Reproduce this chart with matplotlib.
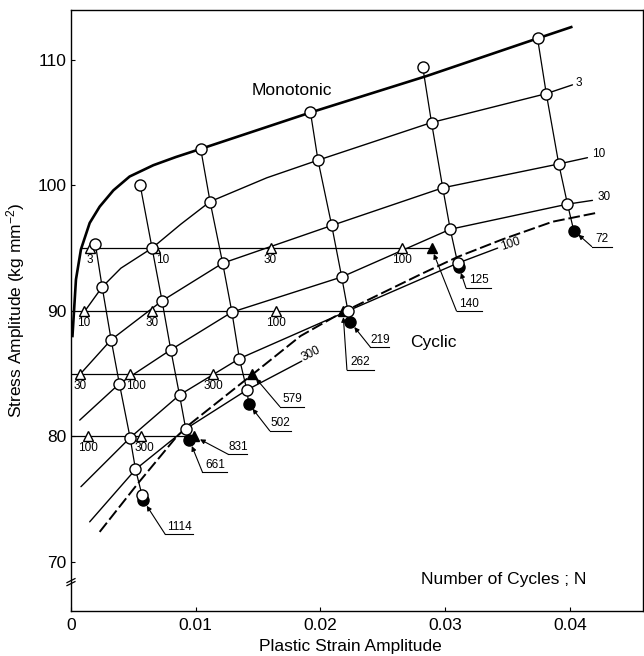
import matplotlib
matplotlib.use("Agg")
import matplotlib.pyplot as plt
from matplotlib.lines import Line2D
from matplotlib.patches import FancyArrowPatch
from matplotlib.transforms import Affine2D, ScaledTranslation

plt.rcParams['font.family'] = ['Liberation Sans', 'DejaVu Sans']
plt.rcParams['mathtext.default'] = 'regular'

# ---------------- data ----------------
x_ticks = [0, 0.01, 0.02, 0.03, 0.04]
x_tick_labels = ['0', '0.01', '0.02', '0.03', '0.04']
y_ticks = [70, 80, 90, 100, 110]

# monotonic stress-strain curve
mono_strain = [0.00012, 0.0004, 0.0008, 0.0015, 0.0023, 0.0034, 0.0047, 0.0066,
               0.0084, 0.0104, 0.0192, 0.0285, 0.0374, 0.0401]
mono_stress = [88.0, 92.5, 94.9, 97.0, 98.3, 99.6, 100.7, 101.6,
               102.25, 102.9, 105.8, 108.7, 111.7, 112.6]

# cyclic curves at a given number of cycles N
n3_strain = [0.00105, 0.0025, 0.0040, 0.0065, 0.0088, 0.01115, 0.0157, 0.0198, 0.0289, 0.0381, 0.0402]
n3_stress = [89.9, 91.9, 93.4, 95.0, 96.9, 98.7, 100.6, 102.0, 105.0, 107.3, 108.0]

n10_strain = [0.0005, 0.00322, 0.0073, 0.01216, 0.0209, 0.0298, 0.0391, 0.0414]
n10_stress = [84.7, 87.7, 90.8, 93.8, 96.8, 99.8, 101.7, 102.2]

n30_strain = [0.0007, 0.00388, 0.0080, 0.0129, 0.0217, 0.0304, 0.0398, 0.0418]
n30_stress = [81.3, 84.2, 86.9, 89.9, 92.7, 96.5, 98.5, 98.8]

n100_strain = [0.0008, 0.00474, 0.0087, 0.0135, 0.0222, 0.0310, 0.0342]
n100_stress = [76.0, 79.9, 83.3, 86.2, 90.0, 93.8, 95.0]

n300_strain = [0.0015, 0.0052, 0.0092, 0.0141, 0.0185]
n300_stress = [73.2, 77.4, 80.6, 83.7, 86.0]

# cyclic stress-strain curve (dashed)
css_strain = [0.0023, 0.0054, 0.0084, 0.0093, 0.0145, 0.0184, 0.0216, 0.0280,
              0.0310, 0.0346, 0.0386, 0.0421]
css_stress = [72.4, 76.3, 79.9, 80.8, 84.9, 88.0, 89.8, 92.9,
              94.3, 95.7, 97.1, 97.8]

# strain-controlled tests: open circles at successive cycles
strain_tests = [
    ([0.00196, 0.0025, 0.00322, 0.00388, 0.00474, 0.00517, 0.0057],
     [95.3, 91.9, 87.7, 84.2, 79.9, 77.4, 75.3]),
    ([0.00555, 0.0065, 0.0073, 0.0080, 0.0087, 0.0092],
     [100.0, 95.0, 90.8, 86.9, 83.3, 80.6]),
    ([0.0104, 0.01115, 0.01216, 0.0129, 0.0135, 0.0141],
     [102.9, 98.7, 93.8, 89.9, 86.2, 83.7]),
    ([0.0192, 0.0198, 0.0209, 0.0217, 0.0222],
     [105.8, 102.0, 96.8, 92.7, 90.0]),
    ([0.0282, 0.0289, 0.0298, 0.0304, 0.0310],
     [109.4, 105.0, 99.8, 96.5, 93.8]),
    ([0.0374, 0.0381, 0.0391, 0.0398],
     [111.7, 107.3, 101.7, 98.5]),
]
# failure points of the strain-controlled tests
strain_fail_strain = [0.0058, 0.0095, 0.01425, 0.0224, 0.0311, 0.0403]
strain_fail_stress = [74.9, 79.7, 82.6, 89.1, 93.5, 96.4]
strain_fail_cycles = [1114, 661, 502, 219, 125, 72]

# stress-controlled tests: triangles at given cycles
stress_levels = [95, 90, 85, 80]
stress_start = [0.0009, 0.0, 0.0, 0.0]
stress_tri_strain = [[0.0015, 0.0067, 0.0160, 0.0265],
                     [0.00105, 0.0065, 0.0164],
                     [0.0007, 0.0047, 0.0114],
                     [0.00135, 0.0056]]
stress_tri_cycles = [[3, 10, 30, 100],
                     [10, 30, 100],
                     [30, 100, 300],
                     [100, 300]]
stress_fail_strain = [0.0289, 0.0218, 0.0145, 0.0099]
stress_fail_cycles = [140, 262, 579, 831]

# ---------------- layout ----------------
# pixel offsets (right, down) of triangle labels from their triangles
tri_label_dx = [[0, 8, 0, 0], [0, 0, 0], [0, 6, 0], [0, 4]]
tri_label_dy = 12
# failure labels: underline start (right, down) from the marker, underline length; pixels
fail_label_layout = {
    72: (18, 16, 20), 125: (7, 21, 25), 140: (25, 63, 25), 219: (20, 25, 19),
    262: (4, 59, 27), 579: (28, 33, 24), 502: (21, 27, 21), 831: (34, 18, 19),
    661: (13, 32, 25), 1114: (22, 34, 28),
}

fig = plt.figure(figsize=(6.44, 6.56), dpi=100)
ax = fig.add_axes([0.1102, 0.0686, 0.8882, 0.9169])


def anchored(x, y, base=None):
    """Transform whose units are pixels measured from data point (x, y)."""
    return Affine2D() + ScaledTranslation(x, y, ax.transData if base is None else base)


thin = dict(color='black', lw=1.0, solid_capstyle='round', zorder=2)

# curves
ax.plot(mono_strain, mono_stress, color='black', lw=1.9, zorder=2)
for xs, ys in [(n3_strain, n3_stress), (n10_strain, n10_stress), (n30_strain, n30_stress),
               (n100_strain, n100_stress), (n300_strain, n300_stress)]:
    ax.plot(xs, ys, **thin)
ax.plot(css_strain, css_stress, color='black', lw=1.4, dashes=(6, 2), zorder=2)

# strain-controlled tests
for (xs, ys), fx, fy in zip(strain_tests, strain_fail_strain, strain_fail_stress):
    ax.plot(list(xs) + [fx], list(ys) + [fy], color='black', lw=0.9, zorder=2)
    ax.plot(xs, ys, 'o', ms=8, mfc='white', mec='black', mew=1.0, zorder=5)
ax.plot(strain_fail_strain, strain_fail_stress, 'o', ms=8, mfc='black', mec='black', zorder=4)

# stress-controlled tests
for lvl, x0, txs, tns, fx, dxs in zip(stress_levels, stress_start, stress_tri_strain,
                                      stress_tri_cycles, stress_fail_strain, tri_label_dx):
    ax.plot([x0, fx], [lvl, lvl], color='black', lw=0.9, zorder=2)
    ax.plot(txs, [lvl] * len(txs), '^', ms=7, mfc='white', mec='black', mew=1.0, zorder=4)
    for tx, tn, dx in zip(txs, tns, dxs):
        ax.text(dx, -tri_label_dy, str(tn), transform=anchored(tx, lvl),
                ha='center', va='center', fontsize=8.5)
ax.plot(stress_fail_strain, stress_levels, '^', ms=7, mfc='black', mec='black', zorder=3)

# failure labels with leaders
fail_points = list(zip(strain_fail_strain, strain_fail_stress, strain_fail_cycles)) + \
    list(zip(stress_fail_strain, stress_levels, stress_fail_cycles))
for fx, fy, n in fail_points:
    dx, dy, length = fail_label_layout[n]
    tr = anchored(fx, fy)
    ax.add_line(Line2D([dx, dx + length], [-dy, -dy], transform=tr, color='black', lw=0.8))
    ax.add_patch(FancyArrowPatch((dx, -dy), (0, 0), transform=tr, arrowstyle='-|>',
                                 mutation_scale=7, shrinkA=0, shrinkB=4.5,
                                 lw=0.8, color='black', zorder=6))
    ax.text(dx + length / 2, -dy + 1.5, str(n), transform=tr,
            ha='center', va='bottom', fontsize=8.5)

# curve labels
ax.text(3, 2, '3', transform=anchored(n3_strain[-1], n3_stress[-1]),
        ha='left', va='center', fontsize=8.5)
ax.text(5, 4, '10', transform=anchored(n10_strain[-1], n10_stress[-1]),
        ha='left', va='center', fontsize=8.5)
ax.text(5, 3, '30', transform=anchored(n30_strain[-1], n30_stress[-1]),
        ha='left', va='center', fontsize=8.5)
ax.text(13, 4, '100', transform=anchored(n100_strain[-1], n100_stress[-1]),
        ha='center', va='center', rotation=18, fontsize=8.5)
ax.text(9, 7, '300', transform=anchored(n300_strain[-1], n300_stress[-1]),
        ha='center', va='center', rotation=27, fontsize=8.5)

ax.text(0.01768, 107.55, 'Monotonic', ha='center', va='center', fontsize=12.5)
ax.text(0.02905, 87.47, 'Cyclic', ha='center', va='center', fontsize=12.5)
ax.text(0.0347, 68.57, 'Number of Cycles ; N', ha='center', va='center', fontsize=12.5)

# axis break on the stress axis
brk = anchored(0, 68.4, ax.get_yaxis_transform())
for off in (-1.5, 1.5):
    ax.add_line(Line2D([-4, 4], [off - 2, off + 2], transform=brk, color='black',
                       lw=0.9, clip_on=False))

# axes
ax.set_xticks(x_ticks)
ax.set_xticklabels(x_tick_labels)
ax.set_yticks(y_ticks)
ax.tick_params(direction='in', length=3, width=0.8, labelsize=12.5)
ax.tick_params(axis='y', pad=3)
ax.tick_params(axis='x', pad=5)
for sp in ax.spines.values():
    sp.set_linewidth(1.0)

ax.set_xlabel('Plastic Strain Amplitude', fontsize=12.5)
ax.xaxis.set_label_coords(0.488, -0.046)
ax.set_ylabel('Stress Amplitude (kg mm$^{-2}$)', fontsize=12.5)
ax.yaxis.set_label_coords(-0.077, 0.5)

ax.set_xlim(0, 0.04585)
ax.set_ylim(66.1, 114.0)

fig.savefig('out.png', dpi=100)
